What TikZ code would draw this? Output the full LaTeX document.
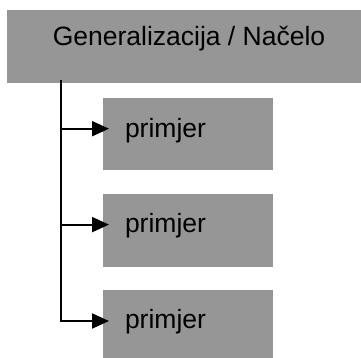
\documentclass[tikz,border=0pt]{standalone}
\usepackage{fontspec}
\setmainfont{Liberation Sans}
\usetikzlibrary{arrows.meta}
\definecolor{boxgray}{RGB}{150,150,150}
\begin{document}
\begin{tikzpicture}[x=1pt,y=-1pt,
  box/.style={fill=boxgray, draw=none, inner sep=0pt, outer sep=0pt, rectangle, anchor=north west},
  lbl/.style={inner sep=0pt, outer sep=0pt, font=\fontsize{26.5}{30}\selectfont},
  link/.style={line width=2pt, draw=black, line join=miter, -{Triangle[length=17pt,width=15pt]}, shorten >=-6pt}]
\useasboundingbox (0,0) rectangle (361,358);
\begin{scope}
\clip (0,0) rectangle (361,358);
\node[box, minimum width=364pt, minimum height=73pt] (top) at (7,10) {};
\node[box, minimum width=170pt, minimum height=72pt] (b1) at (103,98) {};
\node[box, minimum width=170pt, minimum height=73pt] (b2) at (103,194) {};
\node[box, minimum width=170pt, minimum height=73pt] (b3) at (103,290) {};
\end{scope}
\node[lbl, anchor=base] (ttop) at (189,46) {Generalizacija / Načelo};
\node[lbl, anchor=base west] (t1) at (125,137.3) {primjer};
\node[lbl, anchor=base west] (t2) at (125,232.3) {primjer};
\node[lbl, anchor=base west] (t3) at (125,328.5) {primjer};
\coordinate (t0) at (61,80);
\coordinate (j1) at (61,128.7);
\coordinate (j2) at (61,224.6);
\coordinate (j3) at (61,321);
\draw[line width=2pt] (t0) -- (j2);
\draw[link] (j1) -- (j1 -| b1.west);
\draw[link] (j2) -- (j2 -| b2.west);
\draw[link] (t0) |- (j3 -| b3.west);
\end{tikzpicture}
\end{document}
